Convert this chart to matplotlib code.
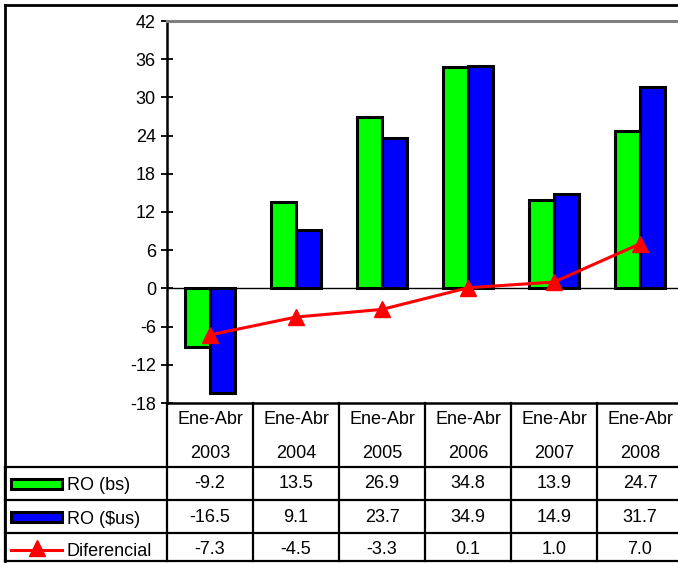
import matplotlib.pyplot as plt
import matplotlib.patches as mpatches
import numpy as np

plt.rcParams['font.family'] = ['Liberation Sans', 'DejaVu Sans']
plt.rcParams['axes.unicode_minus'] = False

# Data
periodos = ['Ene-Abr', 'Ene-Abr', 'Ene-Abr', 'Ene-Abr', 'Ene-Abr', 'Ene-Abr']
anios = ['2003', '2004', '2005', '2006', '2007', '2008']
ro_bs = [-9.2, 13.5, 26.9, 34.8, 13.9, 24.7]
ro_us = [-16.5, 9.1, 23.7, 34.9, 14.9, 31.7]
diferencial = [-7.3, -4.5, -3.3, 0.1, 1.0, 7.0]
series_names = ['RO (bs)', 'RO ($us)', 'Diferencial']

W, H = 678, 563
fs = 13
fig = plt.figure(figsize=(W / 100, H / 100), dpi=100)

# pixel layout
ax_l, ax_r, ax_t, ax_b = 167, 683, 21, 403
tb_l, tb_b = 5, 561
cat_w = (ax_r - ax_l) / len(anios)

ax = fig.add_axes([ax_l / W, 1 - ax_b / H, (ax_r - ax_l) / W, (ax_b - ax_t) / H])
idx = np.arange(len(anios))
bw = 0.295
ax.bar(idx - bw / 2, ro_bs, bw, color='#00FF00', edgecolor='black', linewidth=2.2, zorder=2)
ax.bar(idx + bw / 2, ro_us, bw, color='#0000FF', edgecolor='black', linewidth=2.2, zorder=2)
ax.plot(idx, diferencial, color='#FF0000', linewidth=2.2, marker='^', markersize=12, zorder=3)
ax.axhline(0, color='black', linewidth=1.0, zorder=1)
ax.set_xlim(-0.5, len(anios) - 0.5)
ax.set_ylim(-18, 42)
ax.set_yticks(np.arange(-18, 43, 6))
ax.set_xticks([])
ax.tick_params(axis='y', direction='inout', length=8, width=1.3, labelsize=fs, pad=4)
ax.spines['right'].set_visible(False)
ax.spines['top'].set_color('#808080')
ax.spines['top'].set_linewidth(2.2)
ax.spines['left'].set_linewidth(1.8)
ax.spines['bottom'].set_linewidth(1.8)

# data table below the chart
tx = fig.add_axes([tb_l / W, 1 - tb_b / H, (ax_r - tb_l) / W, (tb_b - ax_b) / H])
tx.set_xlim(-0.5 - (ax_l - tb_l) / cat_w, len(anios) - 0.5)
tx.set_ylim(tb_b, ax_b)
tx.axis('off')
x_left = -0.5 - (ax_l - tb_l) / cat_w
rows = [467, 500, 533, 561]
for y in rows:
    tx.plot([x_left, len(anios)], [y, y], color='black', linewidth=1.6, clip_on=False)
for i in range(len(anios) + 1):
    tx.plot([i - 0.5, i - 0.5], [ax_b, tb_b], color='black', linewidth=1.6, clip_on=False)
tx.plot([x_left, x_left], [rows[0], tb_b], color='black', linewidth=1.6, clip_on=False)

for i in idx:
    tx.text(i, 420, periodos[i], ha='center', va='center', fontsize=fs)
    tx.text(i, 453, anios[i], ha='center', va='center', fontsize=fs)

row_y = [484, 517, 549]
for vals, y in zip([ro_bs, ro_us, diferencial], row_y):
    for i, v in zip(idx, vals):
        tx.text(i, y, f'{v:.1f}', ha='center', va='center', fontsize=fs)

# legend keys in the table
px = 1 / cat_w
kx0 = x_left + 6 * px
kx1 = x_left + 57 * px
for color, y in zip(['#00FF00', '#0000FF'], row_y[:2]):
    tx.add_patch(mpatches.Rectangle((kx0, y - 5), kx1 - kx0, 10, facecolor=color,
                                    edgecolor='black', linewidth=2.2, clip_on=False))
tx.plot([kx0, kx1], [row_y[2] + 1, row_y[2] + 1], color='#FF0000', linewidth=2.2, clip_on=False)
tx.plot([(kx0 + kx1) / 2], [row_y[2] - 1], color='#FF0000', marker='^', markersize=12, clip_on=False)
for name, y in zip(series_names, row_y):
    tx.text(x_left + 62 * px, y + 2, name, ha='left', va='center', fontsize=fs)

# outer border of the chart area
fig.add_artist(plt.Line2D([5 / W, 5 / W], [1 - 5 / H, 1 - tb_b / H], color='black', linewidth=2))
fig.add_artist(plt.Line2D([5 / W, 1], [1 - 5 / H, 1 - 5 / H], color='black', linewidth=2))

fig.savefig('out.png', dpi=100)
